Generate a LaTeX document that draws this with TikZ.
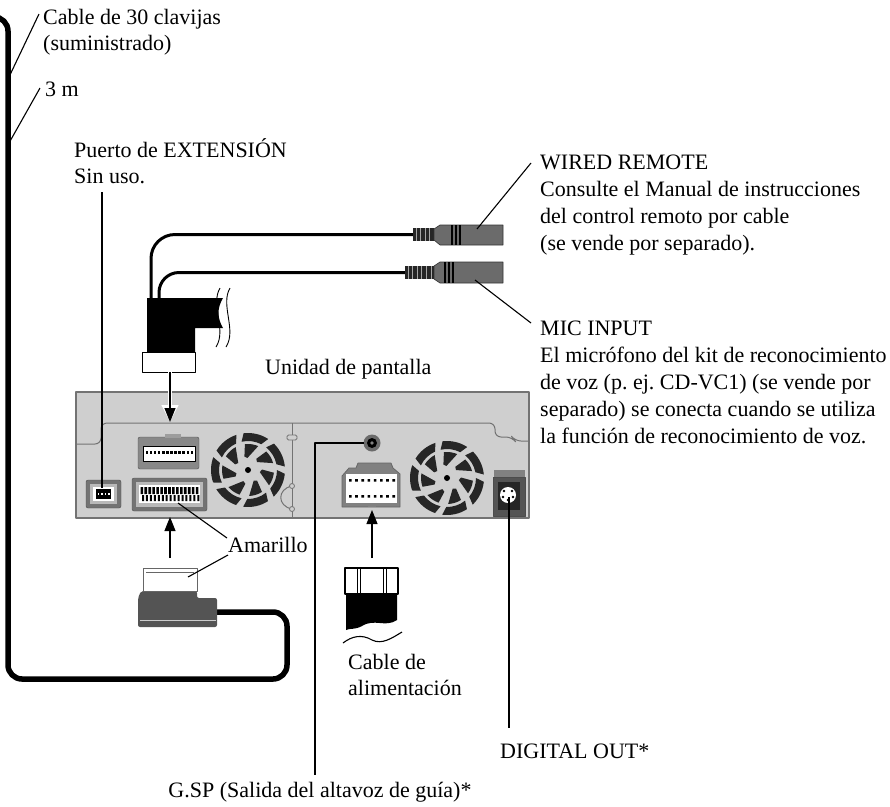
\documentclass[tikz,border=0pt]{standalone}
\usepackage{fontspec}
\setmainfont{Liberation Serif}
\usetikzlibrary{arrows.meta}

\definecolor{panelgray}{gray}{0.81}
\definecolor{rimgray}{gray}{0.45}
\definecolor{bodygray}{gray}{0.33}
\definecolor{jackgray}{gray}{0.42}

\begin{document}
\frenchspacing
\begin{tikzpicture}
[x=1pt,y=-1pt,line join=round,%
  lbl/.style={inner sep=0pt,align=left,font=\fontsize{22}{25.5}\selectfont},%
  wide/.style={font=\fontsize{22}{27}\selectfont},%
  lead/.style={line width=1.1pt},%
  cable/.style={line width=5.5pt,rounded corners=14pt},%
  cord/.style={line width=3pt},%
  ptr/.style={-{Triangle[length=14pt,width=11pt]},line width=1.1pt},%
  halo/.style={preaction={draw=white,line width=4.5pt,-{Triangle[length=17pt,width=16pt]}}},%
  rib/.style={fill=black!85},%
  plugbody/.style={fill=jackgray,draw=black!80,line width=0.6pt}]
\useasboundingbox (0,0) rectangle (890,806);

\node[lbl,anchor=base west] (pins30) at (43,50) {Cable de 30 clavijas\\(suministrado)};
\node[lbl,anchor=base west] (len) at (45,96) {3 m};
\node[lbl,anchor=base west] (extport) at (74,183) {Puerto de EXTENSIÓN\\Sin uso.};
\node[lbl,wide,anchor=base west] (wired) at (540,250) {WIRED REMOTE\\Consulte el Manual de instrucciones\\del control remoto por cable\\(se vende por separado).};
\node[lbl,wide,anchor=base west] (mic) at (540,443) {MIC INPUT\\El micrófono del kit de reconocimiento\\de voz (p. ej. CD-VC1) (se vende por\\separado) se conecta cuando se utiliza\\la función de reconocimiento de voz.};
\node[lbl,anchor=base west] (unit) at (265,374) {Unidad de pantalla};
\node[lbl,anchor=base west] (yellow) at (228,552) {Amarillo};
\node[lbl,anchor=base west] (power) at (348,695) {Cable de\\alimentación};
\node[lbl,anchor=base west] (digital) at (500,758) {DIGITAL OUT*};
\node[lbl,anchor=base] (gsp) at (320,797) {G.SP (Salida del altavoz de guía)*};

% display unit
\draw[rimgray,fill=panelgray,line width=1.3pt] (76,392) rectangle (529,518);
\draw[rimgray,line width=1pt,rounded corners=6pt] (76,444) -| (101,423) -- (495,423) |- (512,437) -- (515,441) -- (529,441);
\draw[rimgray,line width=1pt] (292,423) -- (292,518);
\draw[rimgray,fill=panelgray,line width=0.8pt,rounded corners=1.5pt] (287,435) rectangle (297,440);
\draw[rimgray,line width=1pt] (292,486) .. controls (277,489) and (277,506) .. (292,509);
\draw[rimgray,fill=panelgray,line width=0.8pt] (292,486) circle (2.5) (292,509) circle (2.5);
\foreach \fx/\fy in {248/470,447/478}{
  \begin{scope}[shift={(\fx,\fy)}]
    \foreach \k [evaluate=\k as \a using \k*360/7] in {0,...,6}{
      \fill[black!85] (\a:29) arc[start angle=\a,end angle=\a+40,radius=29]
        -- (\a+46:37) arc[start angle=\a+46,end angle=\a+6,radius=37] -- cycle;
      \fill[black!85] (\a+10:12) -- (\a+36:26) arc[start angle=\a+36,end angle=\a+6,radius=26] -- (\a-2:14) -- cycle;
    }
    \fill (0,0) circle (3);
  \end{scope}
}

% sockets
\draw[rimgray!70!black,fill=rimgray!85,rounded corners=2pt] (138,437) rectangle (199,469);
\fill[rimgray!70] (165,434) rectangle (181,438);
\draw[fill=white,line width=0.5pt] (143,446) rectangle (195,461);
\foreach \i in {0,...,11} \fill (145.5+\i*4.1,451) rectangle ++(2.6,3.2);

\draw[rimgray!70!black,fill=rimgray,rounded corners=2pt] (132,478) rectangle (207,511);
\fill[gray!55] (136,482) rectangle (203,507);
\fill[white] (139,485) rectangle (200,503);
\foreach \i in {0,...,14} \fill (140.5+\i*3.95,487) rectangle ++(2.6,7) (142+\i*3.95,495) rectangle ++(2,6);

\draw[black!70,fill=rimgray,rounded corners=2pt] (86,480) rectangle (121,508);
\fill[gray!55] (90,484) rectangle (117,504);
\fill[white] (93,487) rectangle (114,501);
\fill (96,489) rectangle (111,499);
\foreach \i in {0,...,3} \fill[white] (97.5+\i*3.6,493) rectangle ++(1.6,2);

\fill[jackgray] (372,443) circle (8.5);
\fill (372,443) circle (5);
\fill[gray] (372,443) circle (1.8);

\draw[black!60,fill=rimgray!90,line width=0.8pt] (342,507) -- (342,476) -- (349,468) -- (356,468) -- (358,463) -- (391,463) -- (393,468) -- (400,474) -- (400,507) -- cycle;
\fill[white] (346,474) rectangle (397,503);
\foreach \i in {0,...,7} \fill (349+\i*6.2,479) rectangle ++(2.6,2.6) (349+\i*6.2,495) rectangle ++(2.6,2.6);
\fill[rimgray!90] (368,503) rectangle (376,507);

\fill[rimgray!90] (494,470) rectangle (525,482);
\draw[black!70,fill=bodygray] (493,477) rectangle (525,516);
\fill[black!85] (498,482) rectangle (520,510);
\fill[white] (508,495) circle (8);
\foreach \px/\py in {504/491,512/491,503/497,513/497,508/500} \fill (\px,\py) circle (1.3);

% display cable plug and cords
\fill (147,298) -- (223,298) .. controls (217,308) and (217,318) .. (223,328) -- (195,328) -- (195,352) -- (147,352) -- cycle;
\draw[fill=white,line width=1pt] (142,352) rectangle (195,372);
\draw[line width=0.9pt] (220,288) .. controls (210,305) and (227,330) .. (216,347) (230,288) .. controls (220,305) and (237,330) .. (226,347);
\coordinate (wrjack) at (413,234.5);
\coordinate (micjack) at (405,272.5);
\draw[cord,rounded corners=24pt] (151,300) |- (wrjack);
\draw[cord,rounded corners=20pt] (159,300) |- (micjack);

\fill[rib] (413,228) rectangle (434,241);
\foreach \i in {0,...,3} \draw[gray!70,line width=0.8pt] (416+\i*4.6,228) -- ++(0,13);
\draw[plugbody] (434,240) -- (440,245) -- (503,245) -- (503,225) -- (440,225) -- (434,229) -- cycle;
\foreach \xx in {452,456,460} \draw[line width=1.3pt] (\xx,225) -- (\xx,245);

\fill[rib] (405,266) rectangle (434,279);
\foreach \i in {0,...,5} \draw[gray!70,line width=0.8pt] (408+\i*4.6,266) -- ++(0,13);
\draw[plugbody] (434,279) -- (440,283) -- (503,283) -- (503,262) -- (440,262) -- (434,266) -- cycle;
\foreach \xx in {445,449,453} \draw[line width=1.3pt] (\xx,262) -- (\xx,283);

% 30-pin cable and plug
\coordinate (plug30) at (215,612);
\draw[cable] (-20,17) -| (8,679) -| (287,612) -- (plug30);
\fill[bodygray,rounded corners=2pt] (138,598) -- (141,591) -- (197,591) -- (197,598) -- (217,598) -- (217,627) -- (138,627) -- cycle;
\draw[gray!80!black,fill=white,line width=0.8pt] (143,568) rectangle (197,591);
\draw[gray!80!black,line width=0.6pt] (146,572) -- (194,572);
\draw[gray!40,line width=1pt] (140,620) -- (216,620);

% power plug
\draw[fill=white,line width=1.2pt] (345,568) rectangle (398,594);
\draw[line width=1pt] (357,568) -- (357,594) (360,568) -- (360,594) (383,568) -- (383,594) (386,568) -- (386,594);
\fill (346,594) -- (397,594) -- (397,620) .. controls (385,628) and (375,618) .. (362,626) .. controls (355,630) and (350,628) .. (346,630) -- cycle;
\draw[line width=1.1pt] (343,643) .. controls (352,636) and (362,634) .. (372,640) .. controls (382,645) and (392,638) .. (402,632);

% arrows
\coordinate (dplug) at (170,372);
\coordinate (uconn) at (170,422);
\coordinate (a30) at (170,558);
\coordinate (lconn) at (170,517);
\coordinate (apow) at (372,558);
\coordinate (pconn) at (372,510);
\draw[ptr,halo] (dplug) -- (uconn);
\draw[ptr] (a30) -- (lconn);
\draw[ptr] (apow) -- (pconn);

% leaders
\coordinate (t1) at (39,14);
\coordinate (c1) at (9,77);
\coordinate (t2) at (40,88);
\coordinate (c2) at (9,143);
\coordinate (extup) at (102,192);
\coordinate (extdown) at (102,488);
\coordinate (wrtag) at (531,163);
\coordinate (wrbody) at (477,229);
\coordinate (mictag) at (531,323);
\coordinate (micbody) at (475,280);
\coordinate (yel1) at (227,538);
\coordinate (lcpins) at (178,503);
\coordinate (yel2) at (228,555);
\coordinate (plugtop) at (188,577);
\coordinate (gspjack) at (364,443);
\coordinate (gspend) at (315,775);
\coordinate (dsock) at (509,497);
\coordinate (digend) at (509,728);
\draw[lead] (t1) -- (c1);
\draw[lead] (t2) -- (c2);
\draw[lead] (extup) -- (extdown);
\draw[lead] (wrtag) -- (wrbody);
\draw[lead] (mictag) -- (micbody);
\draw[lead] (yel1) -- (lcpins);
\draw[lead] (yel2) -- (plugtop);
\draw[lead] (gspjack) -| (gspend);
\draw[lead] (dsock) -- (digend);
\end{tikzpicture}
\end{document}
